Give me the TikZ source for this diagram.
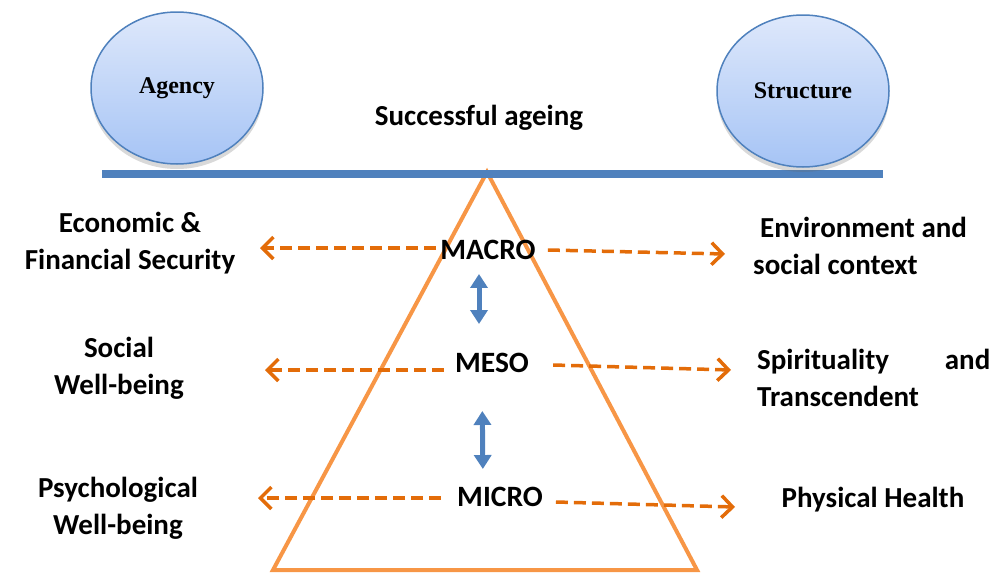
\documentclass[tikz,border=0pt]{standalone}
\usepackage{fontspec}
\setmainfont{Carlito}
\newfontfamily\ballfont{Liberation Serif}
\usepackage{xcolor}
\usepackage{tikz}
\usetikzlibrary{positioning,arrows.meta,shapes.geometric,shadows}

\definecolor{beamblue}{HTML}{4F81BD}
\definecolor{pyrorange}{HTML}{F79646}
\definecolor{linkorange}{HTML}{E36C09}
\definecolor{balltop}{HTML}{DEE8FB}
\definecolor{ballbot}{HTML}{A6C4F5}

\begin{document}
\begin{tikzpicture}[x=1pt, y=-1pt,
ball/.style={ellipse, draw=beamblue, line width=1.5pt, top color=balltop, bottom color=ballbot, minimum width=172pt, minimum height=152pt, font=\ballfont\bfseries\fontsize{24}{28}\selectfont, drop shadow={shadow xshift=0pt, shadow yshift=-5pt, opacity=0.25, fill=black!60}},
level/.style={inner sep=0pt, font=\bfseries\fontsize{29.5}{33}\selectfont},
side/.style={inner sep=0pt, font=\bfseries\fontsize{29}{37}\selectfont},
link/.style={draw=linkorange, line width=3.5pt, dash pattern=on 12pt off 6pt, -{Straight Barb[length=11pt, width=22pt, line width=3.5pt]}},
updown/.style={draw=beamblue, line width=5pt, {Triangle[length=14pt, width=17pt]}-{Triangle[length=14pt, width=17pt]}}
]
\useasboundingbox (0,0) rectangle (994,573);

% balance
\draw[pyrorange, line width=4pt] (487,172) -- (697,570) -- (273,570) -- cycle;
\draw[beamblue, line width=8pt] (102,174) -- (883,174);
\node[ball](agency) at (177,88) {Agency};
\node[ball](structure) at (803,91) {Structure};
\node[font=\bfseries\fontsize{29}{33}\selectfont](goal) at (479,118) {Successful ageing};

% levels
\node[level](macro) at (488,250) {MACRO};
\node[level](meso) at (492,363) {MESO};
\node[level](micro) at (500,497) {MICRO};

% domains
\node[side, align=center](econ) at (130,243) {Economic \&\\Financial Security};
\node[side, align=center](social) at (119,368) {Social\\Well-being};
\node[side, align=center](psych) at (118,508) {Psychological\\Well-being};
\node[side, align=left, anchor=west](env) at (753,246) {\hspace*{7pt}Environment and\\social context};
\node[side, align=left, anchor=west, text width=233pt](spirit) at (757,378) {Spirituality \hfill and\\Transcendent};
\node[side](health) at (873,500) {Physical Health};

\coordinate (macro-l) at (260,248);
\coordinate (macro-r) at (725,254);
\coordinate (meso-l) at (265,370);
\coordinate (meso-r) at (731,370);
\coordinate (micro-l) at (258,498);
\coordinate (micro-r) at (735,507);

\draw[link] ([xshift=-4pt, yshift=2pt]macro.west) -- (macro-l);
\draw[link] ([xshift=12pt]macro.east) -- (macro-r);
\draw[link] ([xshift=-11pt, yshift=-7pt]meso.west) -- (meso-l);
\draw[link] ([xshift=24pt, yshift=-2pt]meso.east) -- (meso-r);
\draw[link] ([xshift=-16pt, yshift=-1pt]micro.west) -- (micro-l);
\draw[link] ([xshift=13pt, yshift=-5pt]micro.east) -- (micro-r);

\draw[updown, shorten <=14pt, shorten >=29pt] ([xshift=-9pt]macro.south) -- ([xshift=-13pt]meso.north);
\draw[updown, shorten <=38pt, shorten >=18pt] ([xshift=-10pt]meso.south) -- ([xshift=-17pt]micro.north);
\end{tikzpicture}
\end{document}
